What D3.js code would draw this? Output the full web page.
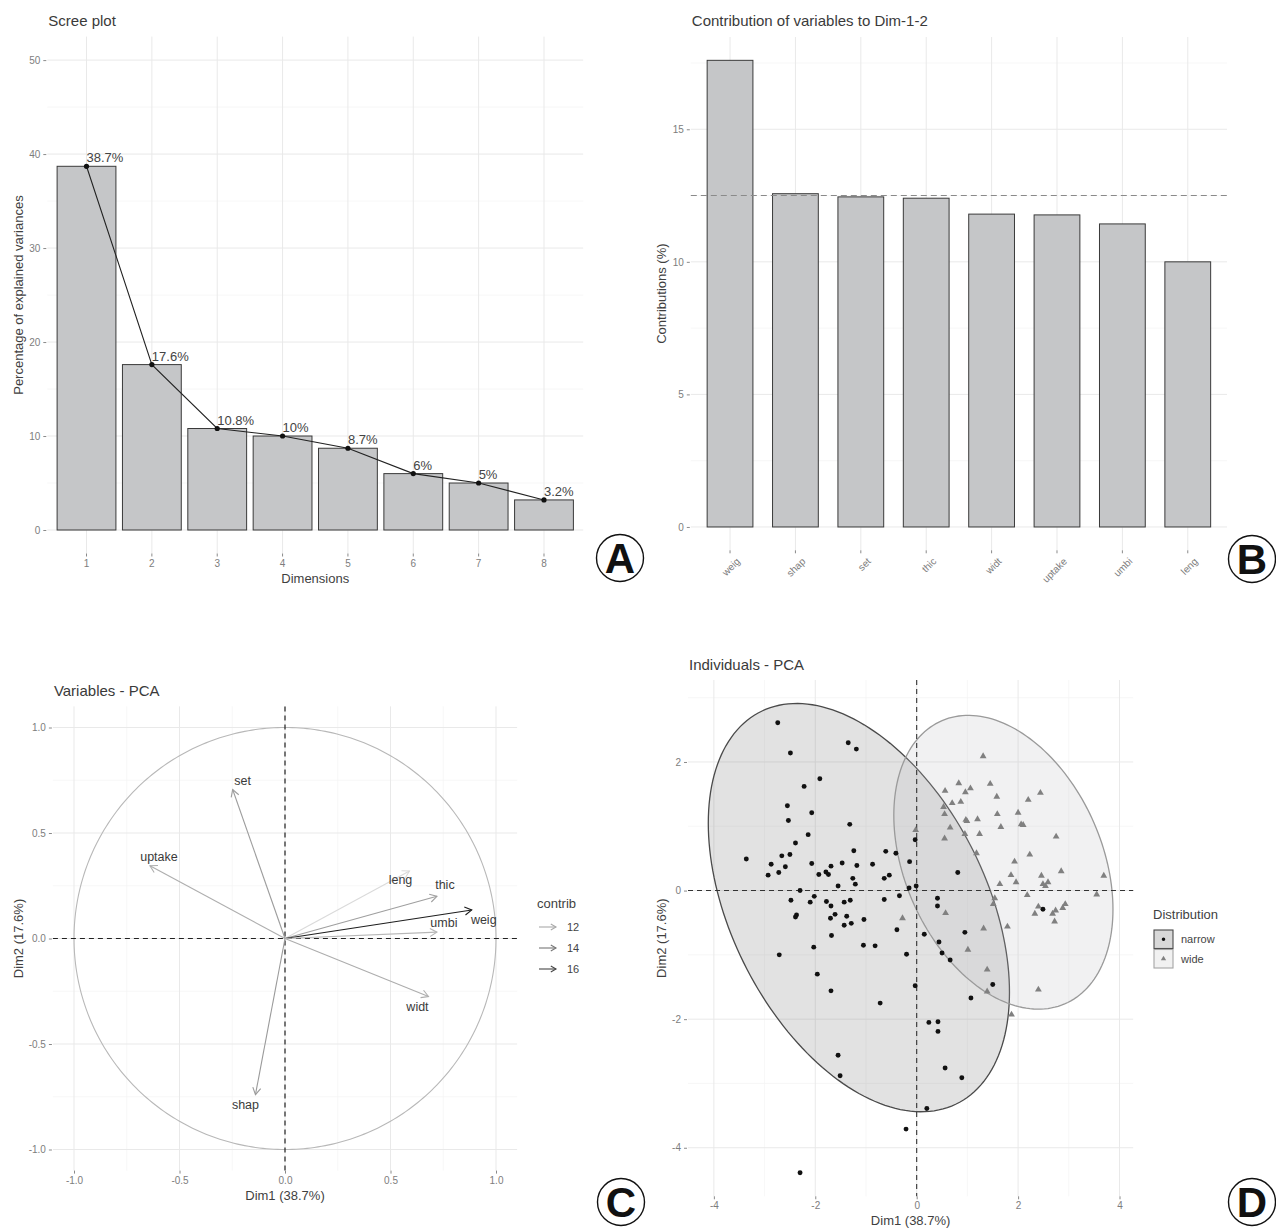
<!DOCTYPE html>
<html><head><meta charset="utf-8">
<script src="https://cdn.jsdelivr.net/npm/d3@7"></script>
<style>body{margin:0;background:#fff} svg{display:block}</style>
</head><body><svg id="c" width="1276" height="1229"></svg>
<script>
// ---------------- DATA ----------------
const screeDims = [1, 2, 3, 4, 5, 6, 7, 8];
const screeValues = [38.7, 17.6, 10.8, 10.0, 8.7, 6.0, 5.0, 3.2];
const screeLabels = ["38.7%", "17.6%", "10.8%", "10%", "8.7%", "6%", "5%", "3.2%"];
const screeTicks = [0, 10, 20, 30, 40, 50];

const contribVars = ["weig", "shap", "set", "thic", "widt", "uptake", "umbi", "leng"];
const contribValues = [17.6, 12.57, 12.45, 12.4, 11.8, 11.77, 11.43, 10.0];
const contribRef = 12.5;
const contribTicks = [0, 5, 10, 15];

const pcaVars = ["set", "uptake", "leng", "thic", "weig", "umbi", "widt", "shap"];
const pcaDim1 = [-0.248, -0.64, 0.59, 0.72, 0.885, 0.72, 0.68, -0.14];
const pcaDim2 = [0.706, 0.345, 0.32, 0.20, 0.135, 0.03, -0.275, -0.74];
const pcaTicks = [-1.0, -0.5, 0.0, 0.5, 1.0];
const contribLegend = [12, 14, 16];

const narrowX = [-2.74,-2.49,-1.35,-1.19,-1.91,-2.22,-2.55,-2.53,-2.07,-1.32,-2.14,-2.39,-2.50,-2.66,-3.36,-2.87,-2.59,-2.72,-2.93,-2.07,-1.93,-1.79,-1.74,-1.69,-1.47,-1.24,-1.18,-0.87,-1.26,-1.21,-1.55,-0.61,-0.41,-0.64,-0.54,-0.14,-0.03,-0.15,-0.01,-2.30,-2.48,-2.10,-2.02,-1.78,-1.69,-2.37,-2.39,-1.70,-1.61,-1.43,-1.31,-1.38,-1.43,-1.29,-1.04,-0.64,-0.34,-1.68,-2.03,-1.05,-0.82,-0.39,0.15,0.41,0.41,0.81,0.95,0.44,-2.71,-0.20,-1.96,-1.69,-0.72,-0.03,0.50,0.66,1.50,1.07,0.24,0.42,0.42,-1.55,-1.51,0.56,0.89,0.20,-0.21,-2.30,2.49];
const narrowY = [2.61,2.14,2.30,2.20,1.74,1.62,1.32,1.09,1.21,1.03,0.87,0.74,0.56,0.54,0.49,0.41,0.37,0.28,0.24,0.42,0.25,0.29,0.25,0.38,0.43,0.62,0.39,0.41,0.19,0.10,0.07,0.61,0.58,0.19,0.24,0.45,0.79,0.04,0.07,0.00,-0.15,-0.18,-0.09,-0.17,-0.24,-0.38,-0.41,-0.43,-0.37,-0.18,-0.15,-0.40,-0.54,-0.51,-0.45,-0.14,-0.08,-0.70,-0.88,-0.85,-0.86,-0.61,-0.68,-0.12,-0.24,0.28,-0.65,-0.80,-1.00,-0.99,-1.30,-1.56,-1.75,-1.48,-0.97,-1.08,-1.46,-1.67,-2.05,-2.04,-2.19,-2.56,-2.88,-2.76,-2.91,-3.39,-3.71,-4.39,-0.29];
const wideX = [1.31,0.83,1.45,0.56,0.96,1.06,2.44,1.58,2.20,0.70,0.87,0.53,0.55,1.59,2.00,0.97,0.99,1.20,2.06,2.10,1.66,0.66,1.24,0.95,0.55,2.75,1.18,2.23,1.93,1.86,2.85,2.46,3.69,1.96,1.64,2.49,2.54,2.59,2.18,3.55,1.54,1.51,2.40,2.33,2.93,2.88,2.74,2.68,2.72,0.57,-0.28,1.32,1.79,1.01,1.39,1.39,1.87,2.40,-0.02];
const wideY = [2.09,1.67,1.66,1.55,1.53,1.59,1.52,1.46,1.41,1.36,1.38,1.30,1.19,1.19,1.21,1.10,1.08,1.11,1.03,1.02,0.99,0.98,0.88,0.88,0.81,0.84,0.58,0.56,0.45,0.24,0.30,0.23,0.23,0.13,0.10,0.10,0.07,0.13,-0.07,-0.06,-0.12,-0.21,-0.25,-0.36,-0.21,-0.27,-0.31,-0.36,-0.48,-0.35,-0.43,-0.59,-0.56,-0.92,-1.23,-1.57,-1.93,-1.54,0.94];
const groups = ["narrow", "wide"];
const ellipseNarrowCenter = [-1.14, -0.265];
const ellipseNarrowCov = [8.82, -3.9, 10.08];
const ellipseWideCenter = [1.71, 0.44];
const ellipseWideCov = [4.67, -1.58, 5.22];
const indXTicks = [-4, -2, 0, 2, 4];
const indYTicks = [-4, -2, 0, 2];

// ---------------- STYLE ----------------
const FONT = '"Liberation Sans", Arial, Helvetica, sans-serif';
const C_TICK = "#7d7d7d", C_AXT = "#3f3f3f", C_TITLE = "#3a3a3a";
const GRID_MAJ = "#e9e9e9", GRID_MIN = "#f3f3f3";
const BAR_FILL = "#c5c6c8", BAR_STROKE = "#3a3a3a";

const svg = d3.select("#c");
svg.append("rect").attr("width", 1276).attr("height", 1229).attr("fill", "#fff");

function grid(g, fx, fy, box, xMaj, xMin, yMaj, yMin) {
  const add = (vals, vert, col, w) => vals.forEach(v => {
    const l = g.append("line").attr("stroke", col).attr("stroke-width", w);
    if (vert) l.attr("x1", fx(v)).attr("x2", fx(v)).attr("y1", box.t).attr("y2", box.b);
    else l.attr("y1", fy(v)).attr("y2", fy(v)).attr("x1", box.l).attr("x2", box.r);
  });
  add(xMin, true, GRID_MIN, 0.7); add(yMin, false, GRID_MIN, 0.7);
  add(xMaj, true, GRID_MAJ, 1); add(yMaj, false, GRID_MAJ, 1);
}
function styleAxis(a) {
  a.attr("font-family", FONT).attr("font-size", 10);
  a.select(".domain").remove();
  a.selectAll("line").attr("stroke", "#8a8a8a");
  a.selectAll("text").attr("fill", C_TICK);
}
function leftAxis(g, scale, vals, xpos, fmt) {
  const a = g.append("g").attr("transform", `translate(${xpos},0)`)
    .call(d3.axisLeft(scale).tickValues(vals).tickSize(3).tickPadding(3).tickFormat(fmt));
  styleAxis(a); return a;
}
function bottomAxis(g, scale, vals, ypos, fmt) {
  const ax = d3.axisBottom(scale).tickSize(3).tickPadding(3);
  if (vals) ax.tickValues(vals);
  if (fmt) ax.tickFormat(fmt);
  const a = g.append("g").attr("transform", `translate(0,${ypos})`).call(ax);
  styleAxis(a); return a;
}
function text(g, x, y, s, opt = {}) {
  const t = g.append("text").attr("x", x).attr("y", y).text(s)
    .attr("font-family", FONT).attr("font-size", opt.size || 13)
    .attr("fill", opt.fill || C_AXT).attr("text-anchor", opt.anchor || "start");
  if (opt.rotate) t.attr("transform", `rotate(${opt.rotate},${x},${y})`);
  if (opt.weight) t.attr("font-weight", opt.weight);
  return t;
}
function badge(cx, cy, letter) {
  svg.append("circle").attr("cx", cx).attr("cy", cy).attr("r", 23.5)
    .attr("fill", "#fff").attr("stroke", "#111").attr("stroke-width", 1.4);
  text(svg, cx, cy + 15, letter, { size: 42, weight: "bold", anchor: "middle", fill: "#111" });
}
const hyph = v => String(v).replace("\u2212", "-");

// ---------------- PANEL A ----------------
{
  const B = { l: 47.3, r: 583.2, t: 36.6, b: 553.5 };
  const g = svg.append("g");
  const x = d3.scaleBand().domain(screeDims).range([B.l, B.r]).paddingInner(0.1).paddingOuter(0.15);
  const y = d3.scaleLinear().domain([-2.5, 52.5]).range([B.b, B.t]);
  const cx = d => x(d) + x.bandwidth() / 2;
  grid(g, cx, y, B, screeDims, [], screeTicks, [5, 15, 25, 35, 45]);
  g.selectAll("rect.bar").data(screeValues).join("rect").attr("class", "bar")
    .attr("x", (v, i) => x(screeDims[i])).attr("width", x.bandwidth())
    .attr("y", v => y(v)).attr("height", v => y(0) - y(v))
    .attr("fill", BAR_FILL).attr("stroke", BAR_STROKE).attr("stroke-width", 1);
  g.append("path").attr("d", d3.line()(screeValues.map((v, i) => [cx(screeDims[i]), y(v)])))
    .attr("fill", "none").attr("stroke", "#222").attr("stroke-width", 1.1);
  screeValues.forEach((v, i) => {
    g.append("circle").attr("cx", cx(screeDims[i])).attr("cy", y(v)).attr("r", 2.6).attr("fill", "#111");
    text(g, cx(screeDims[i]), y(v) - 4, screeLabels[i], { size: 13, fill: "#444" });
  });
  leftAxis(g, y, screeTicks, B.l - 1, d => d);
  bottomAxis(g, x, null, B.b, null);
  text(g, B.l + 1, 26, "Scree plot", { size: 15, fill: C_TITLE });
  text(g, (B.l + B.r) / 2, 583, "Dimensions", { anchor: "middle" });
  text(g, 23, (B.t + B.b) / 2, "Percentage of explained variances", { anchor: "middle", rotate: -90 });
  badge(620, 558, "A");
}

// ---------------- PANEL B ----------------
{
  const B = { l: 690.8, r: 1227, t: 37, b: 550.3 };
  const g = svg.append("g");
  const x = d3.scaleBand().domain(contribVars).range([B.l, B.r]).paddingInner(0.3).paddingOuter(0.25);
  const y = d3.scaleLinear().domain([-0.88, 18.48]).range([B.b, B.t]);
  const cx = d => x(d) + x.bandwidth() / 2;
  grid(g, cx, y, B, contribVars, [], contribTicks, [2.5, 7.5, 12.5, 17.5]);
  g.selectAll("rect.bar").data(contribValues).join("rect").attr("class", "bar")
    .attr("x", (v, i) => x(contribVars[i])).attr("width", x.bandwidth())
    .attr("y", v => y(v)).attr("height", v => y(0) - y(v))
    .attr("fill", BAR_FILL).attr("stroke", BAR_STROKE).attr("stroke-width", 1);
  g.append("line").attr("x1", B.l).attr("x2", B.r).attr("y1", y(contribRef)).attr("y2", y(contribRef))
    .attr("stroke", "#8a8a8a").attr("stroke-width", 1.1).attr("stroke-dasharray", "6,4");
  leftAxis(g, y, contribTicks, B.l - 1, d => d);
  const a = bottomAxis(g, x, null, B.b, null);
  a.selectAll("text").attr("text-anchor", "end").attr("dy", "0.35em")
    .attr("transform", "translate(4,5) rotate(-45)");
  text(g, B.l + 1, 26, "Contribution of variables to Dim-1-2", { size: 15, fill: C_TITLE });
  text(g, 666, (B.t + B.b) / 2, "Contributions (%)", { anchor: "middle", rotate: -90 });
  badge(1252, 559, "B");
}

// ---------------- PANEL C ----------------
{
  const B = { l: 52.9, r: 517.1, t: 706.4, b: 1170.6 };
  const g = svg.append("g");
  const x = d3.scaleLinear().domain([-1.1, 1.1]).range([B.l, B.r]);
  const y = d3.scaleLinear().domain([-1.1, 1.1]).range([B.b, B.t]);
  const minor = [-0.75, -0.25, 0.25, 0.75];
  grid(g, x, y, B, pcaTicks, minor, pcaTicks, minor);
  const circ = d3.range(0, 361).map(a => [x(Math.cos(a * Math.PI / 180)), y(Math.sin(a * Math.PI / 180))]);
  g.append("path").attr("d", d3.line()(circ)).attr("fill", "none").attr("stroke", "#b8b8b8").attr("stroke-width", 1.1);
  g.append("line").attr("x1", B.l).attr("x2", B.r).attr("y1", y(0)).attr("y2", y(0))
    .attr("stroke", "#222").attr("stroke-width", 1.2).attr("stroke-dasharray", "5,4");
  g.append("line").attr("x1", x(0)).attr("x2", x(0)).attr("y1", B.t).attr("y2", B.b)
    .attr("stroke", "#222").attr("stroke-width", 1.2).attr("stroke-dasharray", "5,4");
  const col = d3.scaleLinear().domain([10, 17.6]).range(["#dadada", "#1e1e1e"]);
  const contribOf = v => contribValues[contribVars.indexOf(v)];
  function arrow(gg, x1, y1, x2, y2, c, len) {
    gg.append("line").attr("x1", x1).attr("y1", y1).attr("x2", x2).attr("y2", y2)
      .attr("stroke", c).attr("stroke-width", 1.1);
    const ang = Math.atan2(y2 - y1, x2 - x1);
    const p = [ang + Math.PI - Math.PI / 6, ang + Math.PI + Math.PI / 6].map(a => [x2 + len * Math.cos(a), y2 + len * Math.sin(a)]);
    gg.append("path").attr("d", `M${p[0][0]},${p[0][1]}L${x2},${y2}L${p[1][0]},${p[1][1]}`)
      .attr("fill", "none").attr("stroke", c).attr("stroke-width", 1.1);
  }
  // label offsets (px) relative to arrow tip, mimicking repelled labels
  const labOff = { set: [10, -5], uptake: [9, -5], leng: [-9, 13], thic: [8, -7], weig: [12, 14], umbi: [7, -5], widt: [-11, 14], shap: [-10, 14] };
  pcaVars.forEach((v, i) => {
    const c = col(contribOf(v));
    arrow(g, x(0), y(0), x(pcaDim1[i]), y(pcaDim2[i]), c, 8);
  });
  pcaVars.forEach((v, i) => {
    const o = labOff[v];
    text(g, x(pcaDim1[i]) + o[0], y(pcaDim2[i]) + o[1], v, { size: 12.5, anchor: "middle", fill: "#3a3a3a" });
  });
  leftAxis(g, y, pcaTicks, B.l - 1, d => d.toFixed(1));
  bottomAxis(g, x, pcaTicks, B.b, d => d.toFixed(1));
  text(g, B.l + 1, 696, "Variables - PCA", { size: 15, fill: C_TITLE });
  text(g, x(0), 1200, "Dim1 (38.7%)", { anchor: "middle" });
  text(g, 23, y(0), "Dim2 (17.6%)", { anchor: "middle", rotate: -90 });
  // legend
  text(g, 537, 908, "contrib", { size: 13 });
  contribLegend.forEach((v, i) => {
    const yy = 927 + i * 21;
    arrow(g, 539, yy, 556, yy, col(v), 6);
    text(g, 567, yy + 4, String(v), { size: 11, fill: "#444" });
  });
  badge(621, 1202, "C");
}

// ---------------- PANEL D ----------------
{
  const B = { l: 688.0, r: 1133.2, t: 680.0, b: 1196.3 };
  const g = svg.append("g");
  const x = d3.scaleLinear().domain([-4.51, 4.27]).range([B.l, B.r]);
  const y = d3.scaleLinear().domain([-4.755, 3.275]).range([B.b, B.t]);
  grid(g, x, y, B, indXTicks, [-3, -1, 1, 3], indYTicks, [-3, -1, 1, 3]);
  function ellipse(c, s) {
    const [sxx, sxy, syy] = s;
    const l11 = Math.sqrt(sxx), l21 = sxy / l11, l22 = Math.sqrt(syy - l21 * l21);
    return d3.range(0, 181).map(i => {
      const t = 2 * Math.PI * i / 180, u = Math.cos(t), w = Math.sin(t);
      return [x(c[0] + l11 * u), y(c[1] + l21 * u + l22 * w)];
    });
  }
  g.append("path").attr("d", d3.line()(ellipse(ellipseNarrowCenter, ellipseNarrowCov)) + "Z")
    .attr("fill", "rgba(110,110,112,0.2)").attr("stroke", "#4a4a4a").attr("stroke-width", 1.3);
  g.append("path").attr("d", d3.line()(ellipse(ellipseWideCenter, ellipseWideCov)) + "Z")
    .attr("fill", "rgba(185,185,188,0.2)").attr("stroke", "#9a9a9a").attr("stroke-width", 1.3);
  g.append("line").attr("x1", B.l).attr("x2", B.r).attr("y1", y(0)).attr("y2", y(0))
    .attr("stroke", "#333").attr("stroke-width", 1.1).attr("stroke-dasharray", "5,4");
  g.append("line").attr("x1", x(0)).attr("x2", x(0)).attr("y1", B.t).attr("y2", B.b)
    .attr("stroke", "#333").attr("stroke-width", 1.1).attr("stroke-dasharray", "5,4");
  const tri = d3.symbol(d3.symbolTriangle).size(20);
  const dot = d3.symbol(d3.symbolCircle).size(19);
  wideX.forEach((v, i) => g.append("path").attr("d", tri())
    .attr("transform", `translate(${x(v)},${y(wideY[i])})`).attr("fill", "#808080"));
  narrowX.forEach((v, i) => g.append("path").attr("d", dot())
    .attr("transform", `translate(${x(v)},${y(narrowY[i])})`).attr("fill", "#111"));
  leftAxis(g, y, indYTicks, B.l - 1, hyph);
  bottomAxis(g, x, indXTicks, B.b, hyph);
  text(g, B.l + 1, 669.5, "Individuals - PCA", { size: 15, fill: C_TITLE });
  text(g, (B.l + B.r) / 2, 1225, "Dim1 (38.7%)", { anchor: "middle" });
  text(g, 666, (B.t + B.b) / 2, "Dim2 (17.6%)", { anchor: "middle", rotate: -90 });
  // legend
  text(g, 1153, 919, "Distribution", { size: 13 });
  const keys = [
    { fill: "#d8d8d8", stroke: "#4a4a4a", col: "#111" },
    { fill: "#f1f1f1", stroke: "#a5a5a5", col: "#808080" }
  ];
  groups.forEach((gname, i) => {
    const ky = 930 + i * 19.5;
    const k = keys[i];
    g.append("rect").attr("x", 1154).attr("y", ky).attr("width", 19).attr("height", 18.5)
      .attr("fill", k.fill).attr("stroke", k.stroke).attr("stroke-width", 1.1);
    g.append("path").attr("d", d3.symbol(i === 0 ? d3.symbolCircle : d3.symbolTriangle).size(i === 0 ? 10 : 12)())
      .attr("transform", `translate(1163.5,${ky + 9.3})`).attr("fill", k.col);
    text(g, 1181, ky + 13, gname, { size: 11, fill: "#444" });
  });
  badge(1252, 1202, "D");
}
</script></body></html>
